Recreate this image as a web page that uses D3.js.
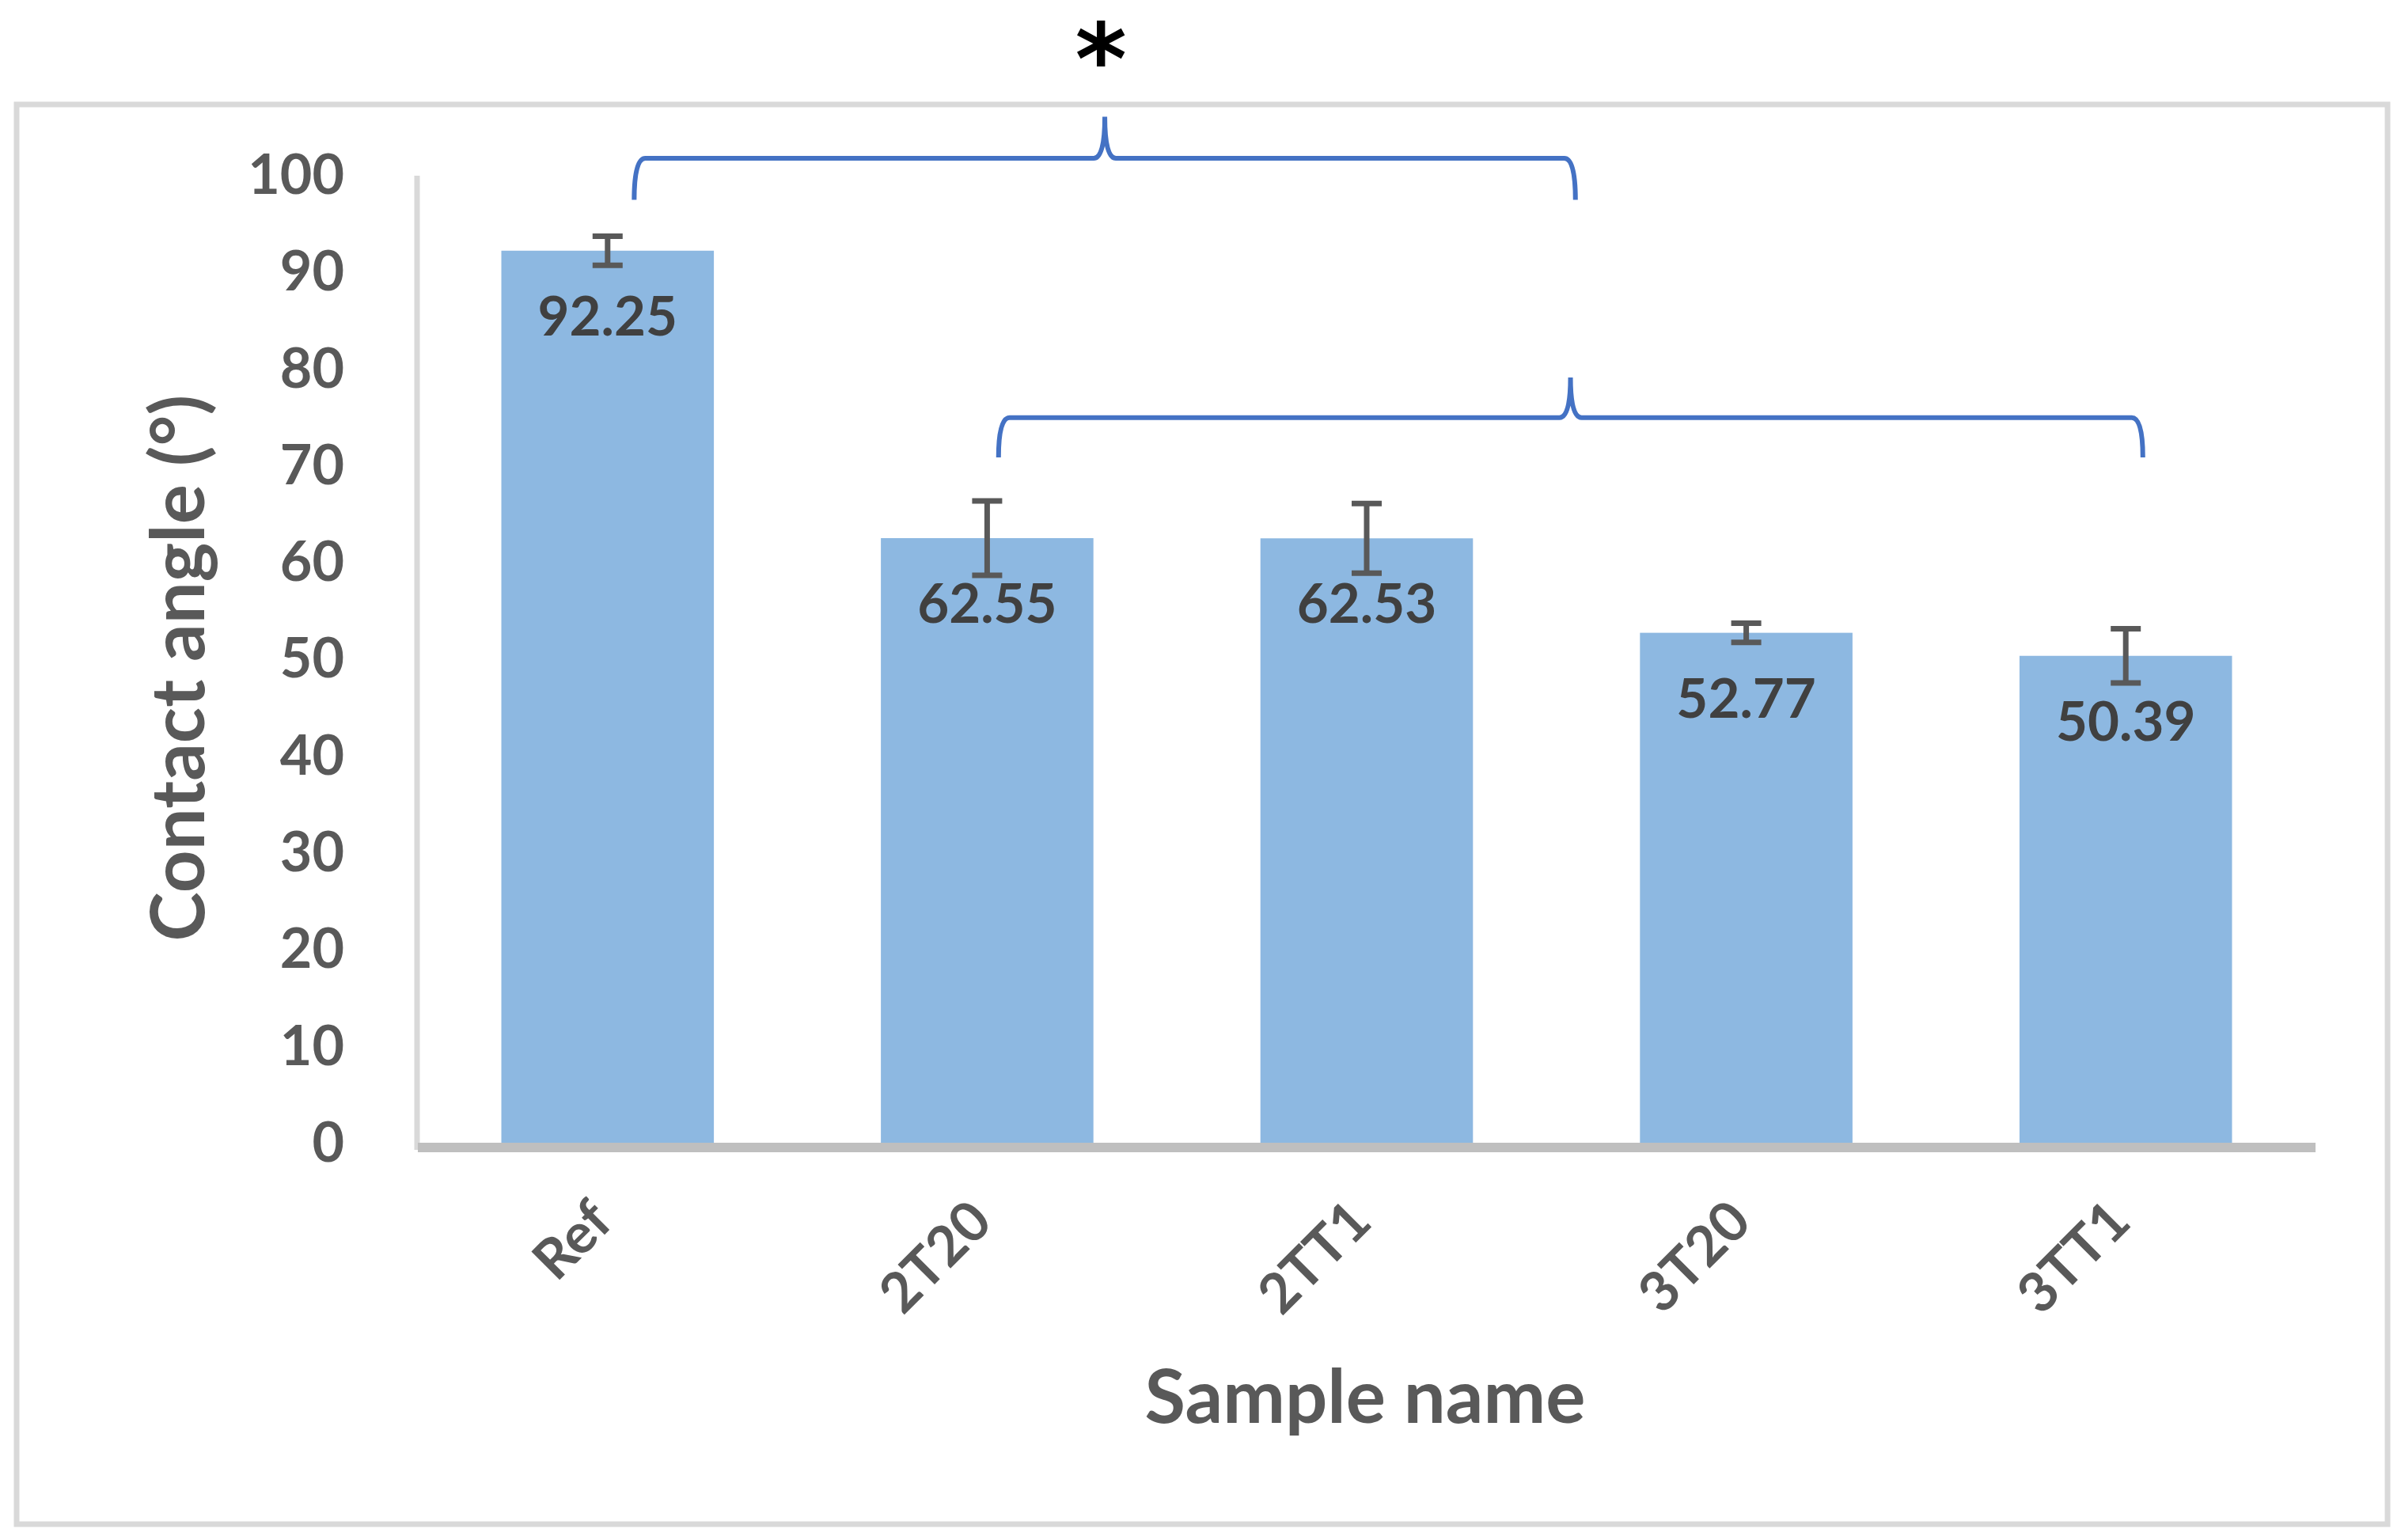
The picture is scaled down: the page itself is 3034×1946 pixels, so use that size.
<!DOCTYPE html>
<html>
<head>
<meta charset="utf-8">
<script src="https://cdn.jsdelivr.net/npm/d3@7"></script>
<style>
  body { margin: 0; background: #ffffff; }
  svg { display: block; }
</style>
</head>
<body>
<div id="chart"></div>
<script>
// sample names and contact angles
var categories = ["Ref", "2T20", "2TT1", "3T20", "3TT1"];
var values = [92.25, 62.55, 62.53, 52.77, 50.39];
var errors = [1.5, 3.85, 3.6, 1.0, 2.8];
var yTicks = [0, 10, 20, 30, 40, 50, 60, 70, 80, 90, 100];

// significance braces: positions in category steps (0 = Ref) and in axis units
var braceFrom = [0.07, 1.03];
var braceTo = [2.55, 4.045];
var bracePeak = [1.31, 2.537];
var braceLevel = [101.8, 75.0];
var braceEnd = [97.5, 70.9];
var braceTip = [106.1, 79.15];
var starText = "*";
var starPos = 1.30;
var starLevel = 108.4;

var width = 3034,
    height = 1946;

var svg = d3.select("#chart")
    .append("svg")
    .attr("width", width)
    .attr("height", height)
    .style("font-family", "Lato, 'Open Sans', sans-serif");

// outer chart frame
svg.append("rect")
    .attr("x", 21).attr("y", 132)
    .attr("width", 2996).attr("height", 1794)
    .attr("fill", "none")
    .attr("stroke", "#d9d9d9")
    .attr("stroke-width", 7);

var x = d3.scaleBand()
    .domain(categories)
    .range([528, 2926])
    .paddingInner(0.44)
    .paddingOuter(0.22);

var y = d3.scaleLinear()
    .domain([0, 100])
    .range([1445, 222]);

// position along x in steps from the first category centre
function xStep(s) {
    return x(categories[0]) + x.bandwidth() / 2 + s * x.step();
}

// vertical axis line
svg.append("line")
    .attr("x1", 527).attr("x2", 527)
    .attr("y1", y(100)).attr("y2", y(0) + 8)
    .attr("stroke", "#d9d9d9")
    .attr("stroke-width", 7);

// y tick labels
var yAxis = svg.append("g")
    .attr("transform", "translate(528,0)")
    .call(d3.axisLeft(y).tickValues(yTicks).tickSize(0).tickPadding(93));
yAxis.select(".domain").remove();
yAxis.selectAll("text")
    .style("font-family", "Lato, sans-serif")
    .style("font-size", "70px")
    .style("font-weight", "bold")
    .attr("fill", "#595959");

// bars
svg.selectAll("rect.bar").data(values)
    .enter().append("rect")
    .attr("class", "bar")
    .attr("x", function(d, i) { return x(categories[i]); })
    .attr("y", function(d) { return y(d); })
    .attr("width", x.bandwidth())
    .attr("height", function(d) { return y(0) - y(d); })
    .attr("fill", "#8db8e1");

// x axis baseline
svg.append("line")
    .attr("x1", 528).attr("x2", 2926)
    .attr("y1", y(0) + 5).attr("y2", y(0) + 5)
    .attr("stroke", "#bfbfbf")
    .attr("stroke-width", 12);

// error bars
var err = svg.selectAll("g.err").data(values)
    .enter().append("g")
    .attr("class", "err")
    .attr("stroke", "#595959")
    .attr("stroke-width", 7);
err.append("line")
    .attr("x1", function(d, i) { return x(categories[i]) + x.bandwidth() / 2; })
    .attr("x2", function(d, i) { return x(categories[i]) + x.bandwidth() / 2; })
    .attr("y1", function(d, i) { return y(d + errors[i]); })
    .attr("y2", function(d, i) { return y(d - errors[i]); });
[1, -1].forEach(function(sign) {
    err.append("line")
        .attr("x1", function(d, i) { return x(categories[i]) + x.bandwidth() / 2 - 19; })
        .attr("x2", function(d, i) { return x(categories[i]) + x.bandwidth() / 2 + 19; })
        .attr("y1", function(d, i) { return y(d + sign * errors[i]); })
        .attr("y2", function(d, i) { return y(d + sign * errors[i]); });
});

// value labels inside the bars
svg.selectAll("text.val").data(values)
    .enter().append("text")
    .attr("class", "val")
    .attr("x", function(d, i) { return x(categories[i]) + x.bandwidth() / 2; })
    .attr("y", function(d) { return y(d) + 107; })
    .attr("text-anchor", "middle")
    .style("font-size", "69px")
    .style("font-weight", "bold")
    .attr("fill", "#404040")
    .text(function(d) { return d.toFixed(2); });

// rotated category labels
svg.selectAll("text.cat").data(categories)
    .enter().append("text")
    .attr("class", "cat")
    .attr("transform", function(d) {
        return "translate(" + (x(d) + x.bandwidth() / 2 - 8) + ",1530) rotate(-45)";
    })
    .attr("text-anchor", "end")
    .attr("dy", "0.35em")
    .style("font-size", "70px")
    .style("font-weight", "bold")
    .attr("fill", "#595959")
    .text(function(d) { return d; });

// axis titles
svg.append("text")
    .attr("x", 1725).attr("y", 1798)
    .attr("text-anchor", "middle")
    .style("font-size", "94px")
    .style("font-weight", "bold")
    .attr("fill", "#595959")
    .text("Sample name");

svg.append("text")
    .attr("transform", "translate(258,844) rotate(-90)")
    .attr("text-anchor", "middle")
    .style("font-size", "94px")
    .style("font-weight", "bold")
    .attr("fill", "#595959")
    .text("Contact angle (°)");

// curly braces
function bracePath(i) {
    var x1 = xStep(braceFrom[i]), x2 = xStep(braceTo[i]), xm = xStep(bracePeak[i]);
    var yh = y(braceLevel[i]), ye = y(braceEnd[i]), yt = y(braceTip[i]);
    var r = 14;
    var p = d3.path();
    p.moveTo(x1, ye);
    p.quadraticCurveTo(x1, yh, x1 + r, yh);
    p.lineTo(xm - r, yh);
    p.quadraticCurveTo(xm, yh, xm, yt);
    p.quadraticCurveTo(xm, yh, xm + r, yh);
    p.lineTo(x2 - r, yh);
    p.quadraticCurveTo(x2, yh, x2, ye);
    return p.toString();
}
svg.selectAll("path.brace").data(braceFrom)
    .enter().append("path")
    .attr("class", "brace")
    .attr("d", function(d, i) { return bracePath(i); })
    .attr("fill", "none")
    .attr("stroke", "#4472c4")
    .attr("stroke-width", 6);

svg.append("text")
    .attr("x", xStep(starPos))
    .attr("y", y(starLevel))
    .attr("text-anchor", "middle")
    .style("font-family", "'DejaVu Sans', sans-serif")
    .style("font-size", "125px")
    .style("font-weight", "bold")
    .attr("fill", "#000000")
    .text(starText);
</script>
</body>
</html>
